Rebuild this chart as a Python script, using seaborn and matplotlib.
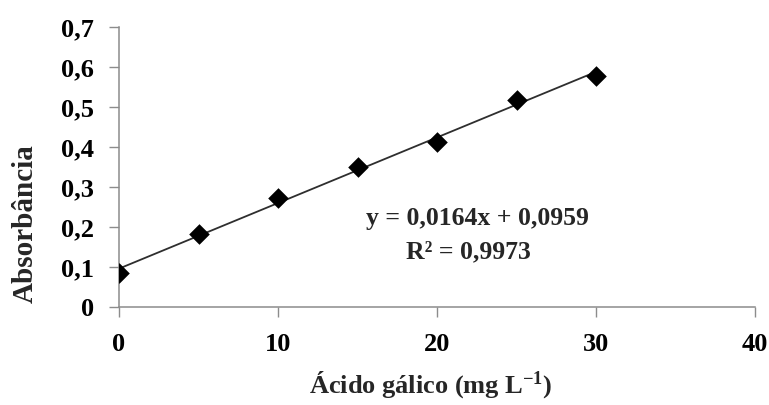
import numpy as np
import pandas as pd
import matplotlib
matplotlib.use("Agg")
import matplotlib.pyplot as plt
import seaborn as sns

# Gallic acid calibration standards
concentracao = [0, 5, 10, 15, 20, 25, 30]
absorbancia = [0.084, 0.182, 0.272, 0.351, 0.413, 0.5175, 0.578]

# Linear fit reported on the chart
inclinacao = 0.0164
intercepto = 0.0959
r2 = 0.9973

x_ticks = [0, 10, 20, 30, 40]
y_ticks = [0, 0.1, 0.2, 0.3, 0.4, 0.5, 0.6, 0.7]

sns.set_theme(style="ticks")
plt.rcParams["font.family"] = ["Liberation Serif", "DejaVu Serif"]
plt.rcParams["font.weight"] = "bold"
plt.rcParams["mathtext.fontset"] = "custom"
plt.rcParams["mathtext.rm"] = "Liberation Serif:bold"
plt.rcParams["mathtext.bf"] = "Liberation Serif:bold"
plt.rcParams["mathtext.it"] = "Liberation Serif:bold"

df = pd.DataFrame({"x": concentracao, "y": absorbancia})
fit_x = [min(concentracao), max(concentracao)]
fit = pd.DataFrame({"x": fit_x, "y": [intercepto + inclinacao * v for v in fit_x]})

fig = plt.figure(figsize=(7.69, 4.05), dpi=100)
ax = fig.add_axes([119 / 769, 1 - 307 / 405, (755 - 119) / 769, (307 - 27) / 405])

sns.lineplot(data=fit, x="x", y="y", ax=ax, color="#2e2e2e", linewidth=1.3, zorder=2)
sns.scatterplot(data=df, x="x", y="y", ax=ax, marker="D", s=110, color="black",
                edgecolor="black", linewidth=0, zorder=3)

ax.set_xlim(0, 40)
ax.set_ylim(0, 0.7)
ax.set_xticks(x_ticks)
ax.set_yticks(y_ticks)
ax.set_xticklabels([str(v) for v in x_ticks])
ax.set_yticklabels([("%g" % v).replace(".", ",") for v in y_ticks])

gray = "#8c8c8c"
for side in ["top", "right"]:
    ax.spines[side].set_visible(False)
for side in ["left", "bottom"]:
    ax.spines[side].set_color(gray)
    ax.spines[side].set_linewidth(1.1)
ax.tick_params(axis="both", colors=gray, length=7, width=1.0, direction="out",
               labelcolor="black", labelsize=19)
ax.tick_params(axis="y", pad=11)
ax.tick_params(axis="x", pad=12)
for lab in ax.get_xticklabels() + ax.get_yticklabels():
    lab.set_fontweight("bold")

ax.set_xlabel("")
ax.set_ylabel("")
fig.text(431 / 769, 1 - 385 / 405, r"Ácido gálico (mg L$^{\mathregular{-1}}$)", ha="center",
         va="center", fontsize=19, fontweight="bold")
fig.text(25 / 769, 1 - 224 / 405, "Absorbância", ha="center", va="center",
         rotation=90, fontsize=21, fontweight="bold")

eq = ("y = %.4fx + %.4f" % (inclinacao, intercepto)).replace(".", ",")
r2txt = ("R² = %.4f" % r2).replace(".", ",")
fig.text(477 / 769, 1 - 218 / 405, eq, ha="center", va="center",
         fontsize=18.5, fontweight="bold")
fig.text(468 / 769, 1 - 252 / 405, r2txt, ha="center", va="center",
         fontsize=18.5, fontweight="bold")

fig.savefig("out.png", dpi=100, facecolor="white")
